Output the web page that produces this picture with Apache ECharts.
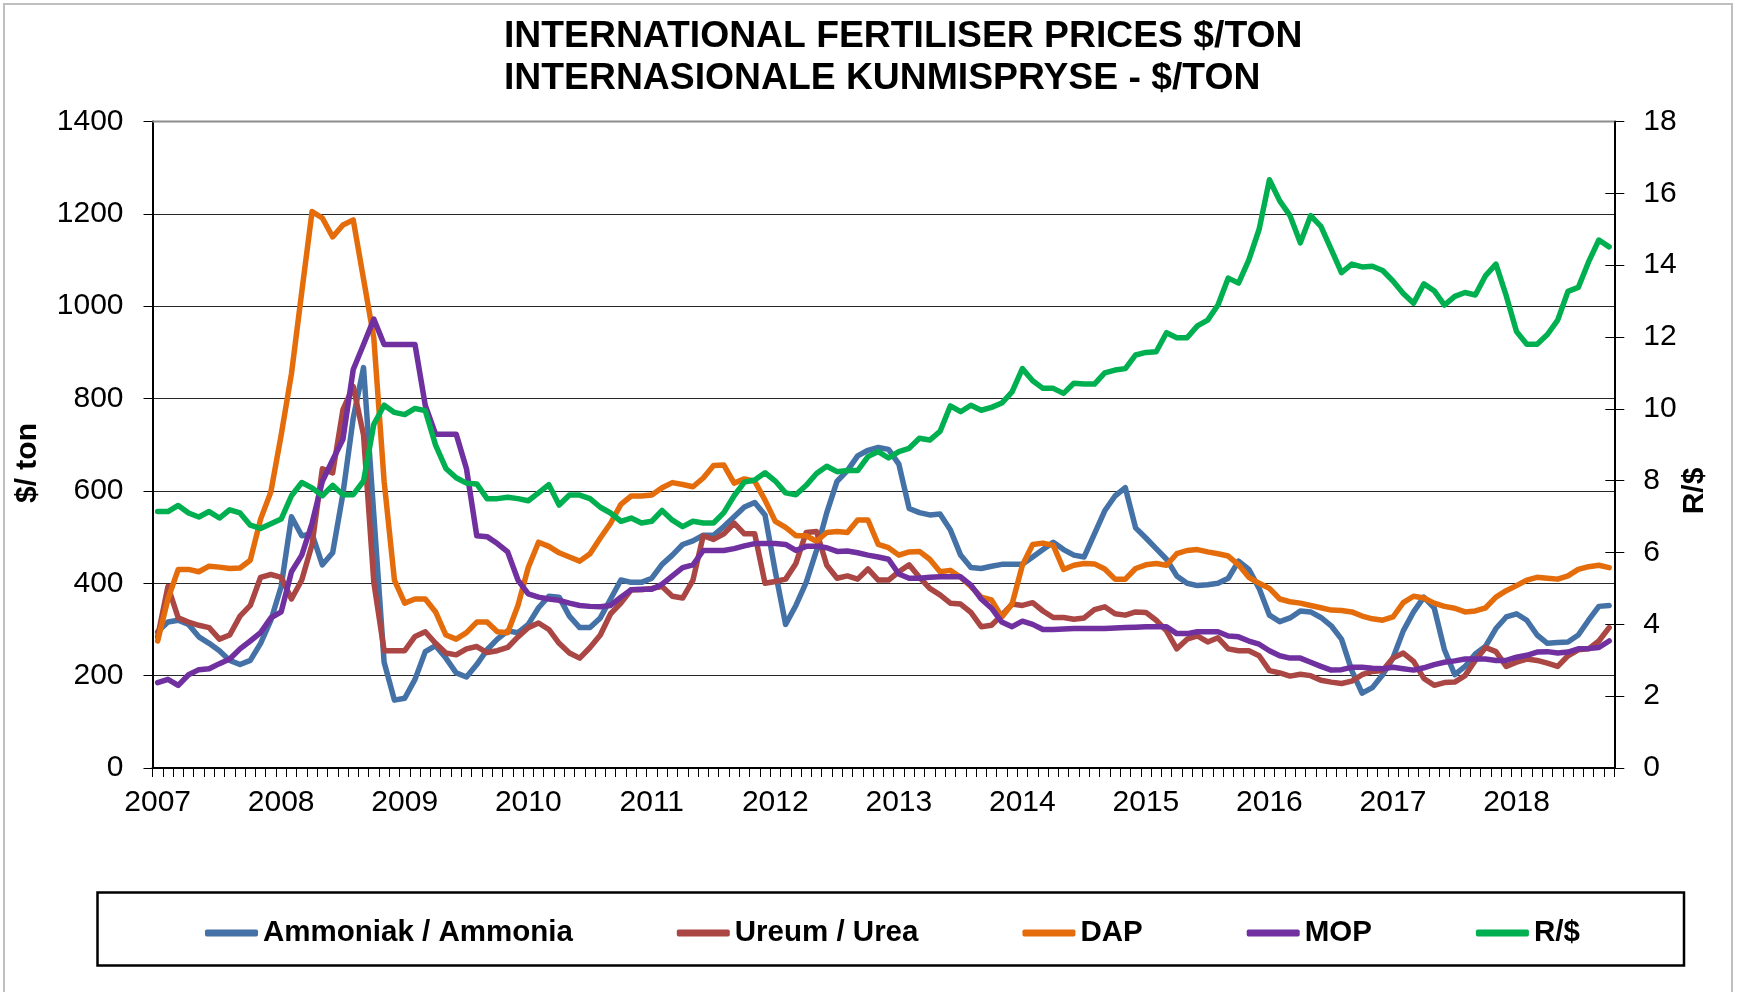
<!DOCTYPE html>
<html>
<head>
<meta charset="utf-8">
<script src="https://cdn.jsdelivr.net/npm/echarts@6/dist/echarts.min.js"></script>
<style>
html,body{margin:0;padding:0;background:#fff;}
#chart{width:1737px;height:992px;}
</style>
</head>
<body>
<div id="chart"></div>
<script>
// ---- DATA (monthly, Jan 2007 .. Oct 2018) ----
const monthCount = 142;
const yearLabels = ['2007','2008','2009','2010','2011','2012','2013','2014','2015','2016','2017','2018'];

const ammonia = [
  295,316,320,311,284,270,254,233,224,233,270,320,393,544,503,507,440,466,594,758,867,548,229,147,151,
  192,252,265,238,206,197,224,256,279,297,293,311,347,372,370,329,304,304,325,366,407,402,402,
  411,441,461,484,492,504,504,523,544,565,575,548,425,311,352,402,471,553,621,644,676,688,694,690,
  658,562,553,548,550,516,461,434,432,437,441,441,441,457,473,489,473,461,457,507,557,589,607,520,
  498,475,452,416,400,395,397,400,411,448,430,389,331,317,325,340,338,326,308,279,211,162,174,202,
  238,297,338,370,347,256,202,220,247,264,302,327,334,320,288,270,272,273,288,320,350,352
];
const urea = [
  284,393,325,316,309,304,279,288,329,352,413,419,413,366,407,484,648,639,776,826,721,402,254,254,254,
  285,295,270,249,245,258,263,250,254,261,284,304,314,300,270,249,238,261,288,334,357,386,386,
  389,393,372,368,407,503,495,507,530,507,507,400,404,409,443,510,512,439,411,416,409,431,407,407,
  425,440,413,389,375,357,355,337,306,309,331,355,352,358,340,326,326,322,325,343,349,334,331,338,
  337,320,297,258,279,286,273,282,258,254,254,243,211,206,199,203,200,190,186,183,188,202,209,211,
  238,249,231,194,179,185,186,200,233,261,252,220,229,236,233,227,220,243,256,258,275,304
];
const dap = [
  275,366,430,430,425,437,435,432,433,450,539,598,721,854,1031,1205,1191,1150,1176,1187,1059,931,621,407,357,
  366,366,338,288,279,293,316,316,295,293,352,434,489,480,466,457,448,464,498,530,571,589,589,
  591,607,618,614,609,628,655,656,617,626,621,580,534,521,503,503,491,510,512,510,537,537,484,477,
  461,468,469,452,425,428,413,393,370,364,327,355,439,484,487,482,430,439,443,442,431,409,409,432,
  440,443,439,464,471,473,468,464,459,440,413,400,389,366,360,357,352,347,342,341,338,329,323,320,
  327,358,372,368,357,350,346,338,340,347,370,384,395,407,413,411,409,416,430,436,439,434
];
const mop = [
  185,192,179,202,213,215,226,236,258,275,293,325,338,425,461,530,621,667,712,863,917,972,917,917,917,
  917,785,723,723,723,648,503,501,486,468,407,377,370,366,363,357,352,350,349,352,370,386,387,
  387,398,416,434,440,471,471,471,475,481,486,486,486,484,471,480,480,477,469,470,466,461,457,452,
  420,411,411,413,414,414,414,396,366,346,316,306,318,311,300,300,301,302,302,302,302,303,304,305,
  306,306,306,291,291,295,295,295,286,284,275,268,254,243,238,238,229,220,212,213,218,218,216,215,
  218,215,212,217,224,229,232,236,236,236,233,233,240,244,251,252,249,251,258,259,261,275
];
const randDollar = [
  7.14,7.14,7.31,7.10,6.99,7.14,6.96,7.19,7.10,6.76,6.67,6.80,6.93,7.58,7.95,7.80,7.58,7.87,7.61,7.61,7.99,9.57,10.10,9.90,9.84,
  10.01,9.95,8.99,8.34,8.08,7.93,7.91,7.50,7.50,7.54,7.50,7.44,7.66,7.89,7.32,7.60,7.60,7.50,7.26,7.10,6.87,6.96,6.82,
  6.87,7.17,6.90,6.72,6.87,6.82,6.82,7.11,7.58,7.96,8.02,8.22,7.99,7.66,7.61,7.87,8.20,8.40,8.25,8.28,8.28,8.67,8.81,8.63,
  8.81,8.90,9.18,9.13,9.37,10.08,9.92,10.10,9.96,10.04,10.16,10.47,11.12,10.78,10.57,10.57,10.43,10.71,10.69,10.69,11.00,11.08,11.12,11.50,
  11.57,11.59,12.12,11.98,11.98,12.31,12.47,12.89,13.64,13.50,14.15,15.00,16.38,15.79,15.38,14.62,15.38,15.08,14.44,13.79,14.03,13.95,13.97,13.85,
  13.56,13.21,12.94,13.48,13.29,12.89,13.13,13.24,13.17,13.71,14.03,13.15,12.15,11.80,11.80,12.07,12.47,13.27,13.38,14.09,14.70,14.51
];
const leftTicks = { min: 0, max: 1400, interval: 200 };
const rightTicks = { min: 0, max: 18, interval: 2 };

const seriesNames = ['Ammoniak / Ammonia','Ureum / Urea','DAP','MOP','R/$'];
const seriesColors = ['#4472A7','#AA4643','#E46C0A','#7030A0','#00B050'];

// category labels: one per month
const months = [];
for (let i = 0; i < monthCount; i++) {
  months.push(yearLabels[Math.floor(i / 12)] + '-' + String(i % 12 + 1).padStart(2, '0'));
}

const FONT = '"Liberation Sans", Arial, sans-serif';
const chart = echarts.init(document.getElementById('chart'), null, { renderer: 'canvas' });

const seriesData = [ammonia, urea, dap, mop, randDollar];
const series = seriesData.map((d, k) => ({
  name: seriesNames[k],
  type: 'line',
  data: d,
  yAxisIndex: k === 4 ? 1 : 0,
  showSymbol: false,
  symbol: 'none',
  smooth: false,
  lineStyle: { width: 5.5, color: seriesColors[k], join: 'round', cap: 'round' },
  itemStyle: { color: seriesColors[k] },
  animation: false
}));

const plainNum = v => String(v);

const option = {
  backgroundColor: '#ffffff',
  animation: false,
  textStyle: { fontFamily: FONT },
  grid: {
    left: 152.5, right: 122.7, top: 121.5, bottom: 224,
    show: false
  },
  legend: {
    data: seriesNames,
    left: 200,
    top: 911,
    itemWidth: 53,
    itemHeight: 7,
    itemGap: 104,
    icon: 'roundRect',
    textStyle: { fontFamily: FONT, fontSize: 29.5, fontWeight: 'bold', color: '#000', lineHeight: 34 }
  },
  xAxis: {
    type: 'category',
    data: months,
    boundaryGap: true,
    axisLine: { show: true, lineStyle: { color: '#000', width: 2 } },
    axisTick: { show: true, interval: 0, alignWithLabel: false, length: 9, lineStyle: { color: '#000', width: 1 } },
    axisLabel: {
      interval: 11,
      margin: 20,
      fontSize: 30,
      color: '#000',
      fontFamily: FONT,
      formatter: v => v.slice(0, 4)
    },
    splitLine: { show: false }
  },
  yAxis: [
    {
      type: 'value',
      position: 'left',
      min: leftTicks.min, max: leftTicks.max, interval: leftTicks.interval,
      axisLine: { show: true, lineStyle: { color: '#000', width: 2 } },
      axisTick: { show: true, length: 9, lineStyle: { color: '#000', width: 1 } },
      axisLabel: { margin: 29, fontSize: 30, color: '#000', fontFamily: FONT, formatter: plainNum },
      splitLine: { show: true, lineStyle: { color: ['#000','#262626','#262626','#262626','#262626','#262626','#262626','#8c8c8c'], width: 1.2 } }
    },
    {
      type: 'value',
      position: 'right',
      min: rightTicks.min, max: rightTicks.max, interval: rightTicks.interval,
      axisLine: { show: true, lineStyle: { color: '#000', width: 2 } },
      axisTick: { show: true, length: 10, lineStyle: { color: '#000', width: 1 } },
      axisLabel: { margin: 29, fontSize: 30, color: '#000', fontFamily: FONT, formatter: plainNum },
      splitLine: { show: false }
    },
    {
      type: 'value',
      position: 'right',
      min: rightTicks.min, max: rightTicks.max, interval: rightTicks.interval,
      axisLine: { show: false },
      axisTick: { show: true, inside: true, length: 9, lineStyle: { color: '#000', width: 1 } },
      axisLabel: { show: false },
      splitLine: { show: false }
    }
  ],
  series: series,
  graphic: [
    {
      type: 'rect', silent: true, z: -10,
      shape: { x: 4, y: 4, width: 1728, height: 1010 },
      style: { fill: 'none', stroke: '#bfbfbf', lineWidth: 2 }
    },
    {
      type: 'line', silent: true, z: 5,
      shape: { x1: 152.5, y1: 121.5, x2: 1614.3, y2: 121.5 },
      style: { stroke: '#8c8c8c', lineWidth: 2 }
    },
    {
      type: 'text', left: 504, top: 18,
      style: { text: 'INTERNATIONAL FERTILISER PRICES $/TON', font: 'bold 37.3px ' + FONT, fill: '#000' }
    },
    {
      type: 'text', left: 504, top: 60,
      style: { text: 'INTERNASIONALE KUNMISPRYSE - $/TON', font: 'bold 37.3px ' + FONT, fill: '#000' }
    },
    {
      type: 'text', x: 28, y: 463, rotation: Math.PI / 2,
      style: { text: '$/ ton', font: 'bold 30px ' + FONT, fill: '#000', align: 'center', verticalAlign: 'middle' }
    },
    {
      type: 'text', x: 1695, y: 491, rotation: Math.PI / 2,
      style: { text: 'R/$', font: 'bold 30px ' + FONT, fill: '#000', align: 'center', verticalAlign: 'middle' }
    },
    {
      type: 'rect', silent: true,
      shape: { x: 97.5, y: 892.5, width: 1586.5, height: 73 },
      style: { fill: 'none', stroke: '#000', lineWidth: 2.5 }
    }
  ]
};
chart.setOption(option);
</script>
</body>
</html>
